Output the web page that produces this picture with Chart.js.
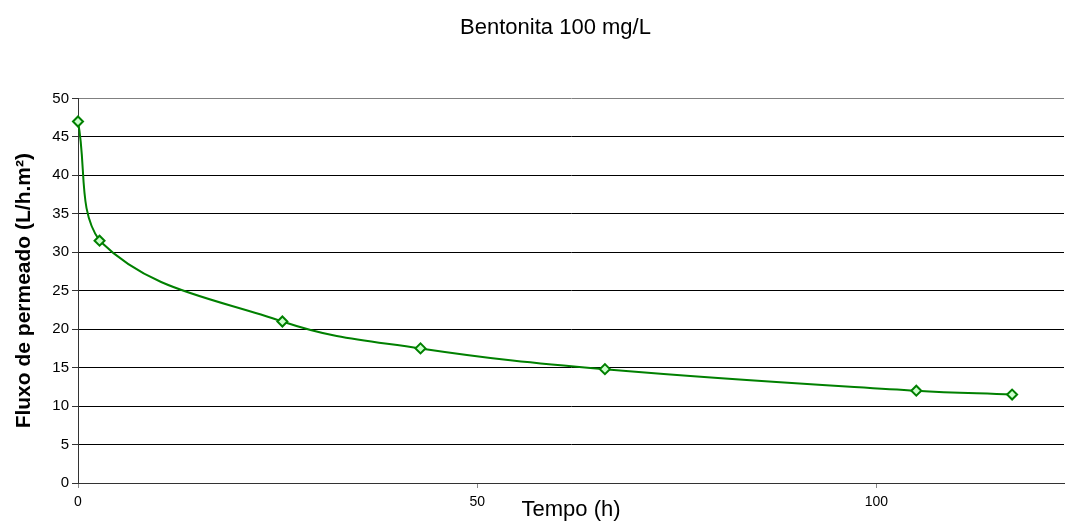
<!DOCTYPE html>
<html>
<head>
<meta charset="utf-8">
<script src="https://cdn.jsdelivr.net/npm/chart.js@4.4.1/dist/chart.umd.min.js"></script>
<style>
  body { margin: 0; background: #fff; }
  #wrap { width: 1071px; height: 521px; }
</style>
</head>
<body>
<div id="wrap"><canvas id="myChart1" width="1071" height="521"></canvas></div>
<script>
// dados
var tempo = [0, 2.7, 25.6, 42.9, 66, 105, 117];
var fluxo = [47, 31.5, 21, 17.5, 14.8, 12, 11.5];
var xTicks = [0, 50, 100];

var pontos = [];
for (var i = 0; i < tempo.length; i++) {
    pontos.push({ x: tempo[i], y: fluxo[i] });
}

const ctx = document.getElementById('myChart1').getContext('2d');
const myChart = new Chart(ctx, {
    type: 'line',
    data: {
        datasets: [{
            label: 'Bentonita 100 mg/L',
            data: pontos,
            borderColor: '#008000',
            borderWidth: 2,
            tension: 0.4,
            clip: false,
            pointStyle: 'rectRot',
            pointRadius: 5,
            pointBackgroundColor: '#ccffcc',
            pointBorderColor: '#008000',
            pointBorderWidth: 2,
            fill: false
        }]
    },
    options: {
        responsive: false,
        animation: false,
        layout: { padding: { left: 40, right: 0, top: 0, bottom: 0 } },
        plugins: {
            legend: { display: false },
            tooltip: { enabled: false },
            title: {
                display: true,
                text: 'Bentonita 100 mg/L',
                color: '#000',
                font: { family: 'Arial', size: 22, weight: 'normal' },
                padding: { top: 15, bottom: 57 }
            }
        },
        scales: {
            x: {
                type: 'linear',
                min: 0,
                max: 123.5,
                afterBuildTicks: function (axis) {
                    axis.ticks = xTicks.map(function (v) { return { value: v }; });
                },
                afterFit: function (axis) { axis.height = 38; },
                grid: {
                    drawOnChartArea: false,
                    drawTicks: true,
                    tickLength: 5,
                    tickColor: '#888'
                },
                border: { color: '#333', width: 1 },
                ticks: {
                    color: '#000',
                    font: { family: 'Arial', size: 14 },
                    padding: 6,
                    maxRotation: 0
                },
                title: {
                    display: true,
                    text: 'Tempo (h)',
                    color: '#000',
                    font: { family: 'Arial', size: 22 },
                    padding: { top: 0, bottom: -2 }
                }
            },
            y: {
                min: 0,
                max: 50,
                afterFit: function (axis) { axis.width = 38; },
                grid: {
                    color: function (c) { return c.tick && c.tick.value === 50 ? '#808080' : '#000'; },
                    lineWidth: 1,
                    drawTicks: true,
                    tickLength: 6,
                    tickColor: '#333'
                },
                border: { color: '#333', width: 1 },
                ticks: {
                    stepSize: 5,
                    color: '#000',
                    font: { family: 'Arial', size: 15 },
                    padding: 3
                },
                title: {
                    display: true,
                    text: 'Fluxo de permeado (L/h.m²)',
                    color: '#000',
                    font: { family: 'Arial', size: 21, weight: 'bold' },
                    padding: { top: -28, bottom: 0 }
                }
            }
        }
    }
});
</script>
</body>
</html>
